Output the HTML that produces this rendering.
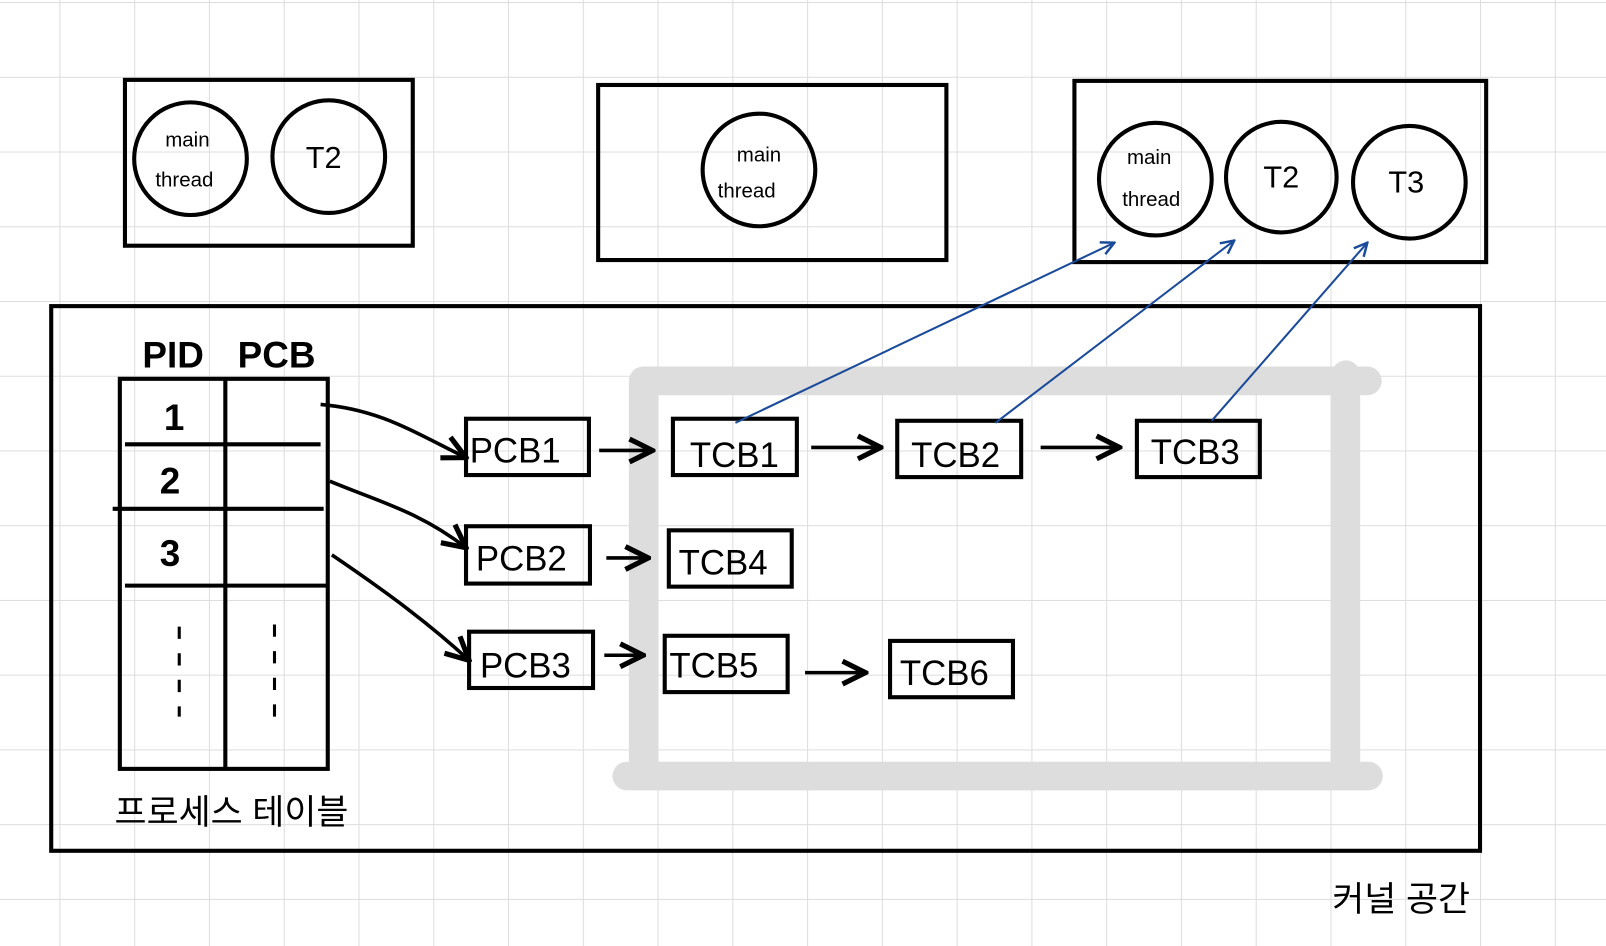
<!DOCTYPE html>
<html><head><meta charset="utf-8"><style>
html,body{margin:0;padding:0;background:#fff;overflow:hidden}
svg{display:block}
text{font-family:"Liberation Sans","Noto Sans CJK KR",sans-serif;fill:#000}
</style></head><body>
<svg width="1606" height="946" viewBox="0 0 1568 924" preserveAspectRatio="none" xmlns="http://www.w3.org/2000/svg">
<defs>
<pattern id="g" x="58" y="2" width="73" height="73" patternUnits="userSpaceOnUse">
<path d="M0 0V73M0 0H73" stroke="#ddd" stroke-width="2" fill="none"/>
</pattern>
<marker id="a" viewBox="0 0 10 10" refX="9" refY="5" markerWidth="8" markerHeight="8" orient="auto"><path d="M1 1L9 5L1 9" fill="none" stroke="#000" stroke-width="1.8"/></marker>
<marker id="b" viewBox="0 0 10 10" refX="9" refY="5" markerWidth="8" markerHeight="8" orient="auto"><path d="M1 1L9 5L1 9" fill="none" stroke="#1a4a9a" stroke-width="1.5"/></marker>
</defs>
<rect width="1568" height="924" fill="url(#g)"/>
<g fill="none" stroke="#000" stroke-width="4">
<rect x="122" y="78" width="281" height="162"/>
<rect x="584" y="83" width="340" height="171"/>
<rect x="1049" y="79" width="402" height="177"/>
<circle cx="186" cy="155" r="55"/><circle cx="321" cy="153" r="55"/>
<circle cx="741" cy="166" r="55"/>
<circle cx="1128" cy="175" r="55"/><circle cx="1251" cy="173" r="54"/><circle cx="1376" cy="178" r="55"/>
<rect x="50" y="299" width="1395" height="532"/>
</g>
<g fill="none" stroke="#ddd" stroke-width="28" stroke-linecap="round">
<path d="M628 372H1335M628 372V755M1314 366V750M612 758H1336"/>
</g>
<g fill="none" stroke="#000" stroke-width="4">
<rect x="117" y="370" width="203" height="381"/>
<path d="M220 370V751M122 434H313M110 497H316M122 572H320"/>
<rect x="455" y="409" width="120" height="55"/>
<rect x="455" y="514" width="121" height="56"/>
<rect x="458" y="617" width="121" height="55"/>
<rect x="657" y="409" width="121" height="55"/>
<rect x="876" y="411" width="121" height="55"/>
<rect x="1110" y="411" width="120" height="55"/>
<rect x="653" y="518" width="120" height="55"/>
<rect x="649" y="621" width="120" height="55"/>
<rect x="869" y="626" width="120" height="55"/>
</g>
<g fill="none" stroke="#000" stroke-width="3.5" marker-end="url(#a)">
<path d="M313 395C370 400 400 420 455 447"/>
<path d="M322 470C370 490 410 500 455 535"/>
<path d="M324 542C380 580 420 610 458 645"/>
<path d="M585 440H637"/><path d="M792 437H860"/><path d="M1016 437H1093"/>
<path d="M592 545H633"/><path d="M590 640H628"/><path d="M786 657H845"/>
</g>
<g fill="none" stroke="#1a4a9a" stroke-width="2" marker-end="url(#b)">
<path d="M718 413L1088 237"/><path d="M972 413L1205 235"/><path d="M1183 411L1335 237"/>
</g>
<g stroke="#000" stroke-width="3" stroke-dasharray="12 14"><path d="M175 612V700M268 610V706"/></g>
<g font-size="20" text-anchor="middle">
<text x="183" y="143">main</text><text x="180" y="182">thread</text>
<text x="741" y="158">main</text><text x="729" y="193">thread</text>
<text x="1122" y="160">main</text><text x="1124" y="201">thread</text>
</g>
<g font-size="30" text-anchor="middle">
<text x="316" y="164">T2</text><text x="1251" y="183">T2</text><text x="1373" y="188">T3</text>
</g>
<g font-size="36" text-anchor="middle" font-weight="bold">
<text x="169" y="359">PID</text><text x="270" y="359">PCB</text>
<text x="170" y="420">1</text><text x="166" y="482">2</text><text x="166" y="553">3</text>
</g>
<g font-size="34" text-anchor="middle">
<text x="503" y="452">PCB1</text><text x="509" y="557">PCB2</text><text x="513" y="662">PCB3</text>
<text x="717" y="456">TCB1</text><text x="933" y="456">TCB2</text><text x="1167" y="453">TCB3</text>
<text x="706" y="561">TCB4</text><text x="697" y="662">TCB5</text><text x="922" y="669">TCB6</text>
</g>
<text x="226" y="805" font-size="34" text-anchor="middle">프로세스 테이블</text>
<text x="1368" y="890" font-size="34" text-anchor="middle">커널 공간</text>
</svg>
</body></html>
